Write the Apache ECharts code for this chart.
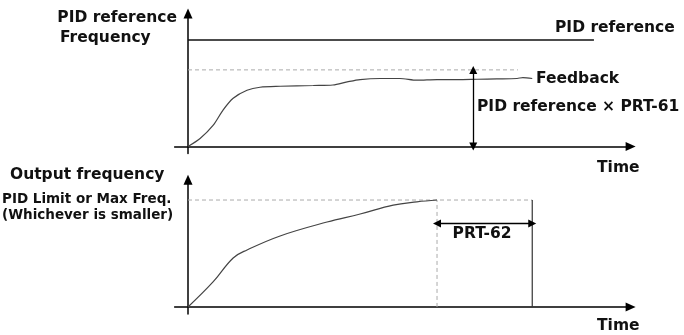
<!DOCTYPE html>
<html>
<head>
<meta charset="utf-8">
<script src="https://cdn.jsdelivr.net/npm/echarts@6/dist/echarts.min.js"></script>
<style>
  html, body { margin: 0; padding: 0; background: #fff; }
  #chart { width: 684px; height: 335px; }
</style>
</head>
<body>
<div id="chart"></div>
<script>
// time runs 0..100 (arbitrary), frequency in % of PID reference / limit

// upper plot: PID reference and feedback
const fbTime = [0, 2.7, 5.6, 7.8, 10.1, 13.2, 16.1, 20.6, 28, 32.4, 35.6, 38.5, 43, 47.4, 51.2, 55.7, 60.2, 64.7, 69.1, 73.6, 74.9, 77]
const feedback = [0, 7.5, 19.8, 34, 45.3, 52.8, 55.7, 56.6, 57.3, 57.8, 60.7, 62.9, 63.9, 63.9, 62.3, 62.9, 62.9, 63.2, 63.5, 63.9, 64.8, 63.9]
const pidReference = 100
const pidRefEnd = 90.8
const prt61Level = 72      // PID reference x PRT-61
const prt61End = 73.8
const prt61ArrowAt = 63.8

// lower plot: output frequency
const outTime = [0, 5.6, 10.1, 13.2, 20.6, 31.1, 38.5, 45.9, 51.2, 55.7]
const outputFreq = [0, 23.4, 45.8, 53.3, 66.4, 79.4, 86.9, 95.3, 98.3, 100]
const limitFreq = 100
const limitReached = 55.7
const tripTime = 77
const prt62ArrowLevel = 78

const chart = echarts.init(document.getElementById('chart'))

const font = '"DejaVu Sans", sans-serif'
function txt(x, y, s, size, align) {
  return {
    type: 'text', x: x, y: y,
    style: { text: s, fill: '#111', font: 'bold ' + size + 'px ' + font, textAlign: align || 'left', textVerticalAlign: 'middle' }
  }
}

const axisLineStyle = { color: '#000', width: 1.5 }
function xAx(i) {
  return {
    type: 'value', gridIndex: i, min: -3, max: 99,
    axisLine: { onZero: true, lineStyle: axisLineStyle, symbol: ['none', 'triangle'], symbolSize: [9, 10] },
    axisTick: { show: false }, axisLabel: { show: false }, splitLine: { show: false }
  }
}
function yAx(i, max) {
  return {
    type: 'value', gridIndex: i, min: -6.6, max: max,
    axisLine: { onZero: true, lineStyle: axisLineStyle, symbol: ['none', 'triangle'], symbolSize: [9, 10] },
    axisTick: { show: false }, axisLabel: { show: false }, splitLine: { show: false }
  }
}

const dashed = { color: '#aaa', width: 1, type: [4, 3] }

const option = {
  animation: false,
  grid: [
    { left: 174.6, width: 456, top: 13.5, height: 140 },
    { left: 174.6, width: 456, top: 179.7, height: 134.3 }
  ],
  xAxis: [xAx(0), xAx(1)],
  yAxis: [yAx(0, 125), yAx(1, 119)],
  series: [
    {
      type: 'line', xAxisIndex: 0, yAxisIndex: 0, symbol: 'none',
      data: [[0, pidReference], [pidRefEnd, pidReference]],
      lineStyle: { color: '#111', width: 1.5 }
    },
    {
      type: 'line', xAxisIndex: 0, yAxisIndex: 0, symbol: 'none',
      data: [[0, prt61Level], [prt61End, prt61Level]],
      lineStyle: dashed
    },
    {
      type: 'line', xAxisIndex: 0, yAxisIndex: 0, symbol: 'none', smooth: 0.3,
      data: fbTime.map((t, i) => [t, feedback[i]]),
      lineStyle: { color: '#444', width: 1.2 },
      markLine: {
        silent: true, symbol: ['triangle', 'triangle'], symbolSize: [8, 8],
        lineStyle: { color: '#000', width: 1.3, type: 'solid' }, label: { show: false },
        data: [[{ coord: [prt61ArrowAt, 0] }, { coord: [prt61ArrowAt, prt61Level] }]]
      }
    },
    {
      type: 'line', xAxisIndex: 1, yAxisIndex: 1, symbol: 'none',
      data: [[0, limitFreq], [tripTime, limitFreq]],
      lineStyle: dashed
    },
    {
      type: 'line', xAxisIndex: 1, yAxisIndex: 1, symbol: 'none',
      data: [[limitReached, 0], [limitReached, limitFreq]],
      lineStyle: dashed
    },
    {
      type: 'line', xAxisIndex: 1, yAxisIndex: 1, symbol: 'none',
      data: [[tripTime, 0], [tripTime, limitFreq]],
      lineStyle: { color: '#333', width: 1.2 }
    },
    {
      type: 'line', xAxisIndex: 1, yAxisIndex: 1, symbol: 'none', smooth: 0.4,
      data: outTime.map((t, i) => [t, outputFreq[i]]),
      lineStyle: { color: '#444', width: 1.2 },
      markLine: {
        silent: true, symbol: ['triangle', 'triangle'], symbolSize: [8, 8],
        lineStyle: { color: '#000', width: 1.3, type: 'solid' }, label: { show: false },
        data: [[{ coord: [limitReached, prt62ArrowLevel] }, { coord: [tripTime, prt62ArrowLevel] }]]
      }
    }
  ],
  graphic: [
    txt(177, 18, 'PID reference', 15.5, 'right'),
    txt(60, 38, 'Frequency', 15.5),
    txt(555, 28, 'PID reference', 15.5),
    txt(536, 79, 'Feedback', 15.5),
    txt(477, 107, 'PID reference × PRT-61', 15.5),
    txt(597, 168, 'Time', 15.5),
    txt(10, 175, 'Output frequency', 15.5),
    txt(2, 199, 'PID Limit or Max Freq.', 13.5),
    txt(2, 215, '(Whichever is smaller)', 13.5),
    txt(482, 234, 'PRT-62', 15.5, 'center'),
    txt(597, 326, 'Time', 15.5)
  ]
}

chart.setOption(option)
</script>
</body>
</html>
